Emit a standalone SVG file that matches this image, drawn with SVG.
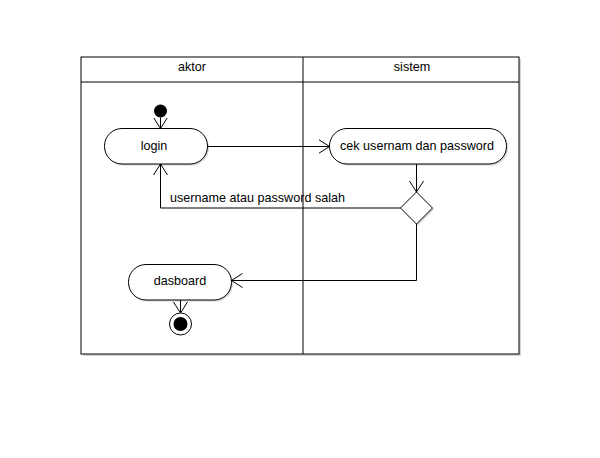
<svg xmlns="http://www.w3.org/2000/svg" width="600" height="458" viewBox="0 0 600 458">
<defs>
<marker id="arr" markerWidth="12" markerHeight="16" refX="11" refY="8" orient="auto" markerUnits="userSpaceOnUse">
<path d="M0,1 L11,8 L0,15" fill="none" stroke="#000" stroke-width="1"/>
</marker>
</defs>
<style>
text{font-family:"Liberation Sans",Arial,sans-serif;font-size:12.6px;fill:#000}
.lane{fill:#fff;stroke:#000;stroke-width:1}
.act{fill:#fff;stroke:#000;stroke-width:1}
.sh{fill:#d4d4d4;stroke:none}
.c{fill:none;stroke:#000;stroke-width:1}
</style>
<rect width="600" height="458" fill="#fff"/>
<g id="pool">
<rect x="83" y="59" width="438" height="297" class="sh"/>
<rect x="81" y="57" width="438" height="297" class="lane"/>
<line x1="81" y1="82" x2="519" y2="82" stroke="#000"/>
<line x1="303" y1="57" x2="303" y2="354" stroke="#000"/>
</g>
<g id="lane-aktor"><text x="192" y="71" text-anchor="middle">aktor</text></g>
<g id="lane-sistem"><text x="412" y="71" text-anchor="middle">sistem</text></g>
<g id="start"><circle cx="160.5" cy="111" r="6.5" fill="#000"/></g>
<g id="login">
<rect x="106" y="130" width="103" height="35.5" rx="17.5" class="sh"/>
<rect x="104.5" y="128.5" width="103" height="35.5" rx="17.5" class="act"/>
<text x="154" y="150" text-anchor="middle">login</text>
</g>
<g id="cek">
<rect x="331" y="130" width="177" height="35.5" rx="17.5" class="sh"/>
<rect x="329.5" y="128.5" width="177" height="35.5" rx="17.5" class="act"/>
<text x="417" y="150" text-anchor="middle">cek usernam dan password</text>
</g>
<g id="decision">
<polygon points="418,193.5 434,209.5 418,225.5 402,209.5" class="sh"/>
<polygon points="416.5,192 432.5,208 416.5,224 400.5,208" class="act"/>
</g>
<g id="dasboard">
<rect x="130" y="266" width="103" height="35.5" rx="17.5" class="sh"/>
<rect x="128.5" y="264.5" width="103" height="35.5" rx="17.5" class="act"/>
<text x="180" y="284.5" text-anchor="middle">dasboard</text>
</g>
<g id="end">
<circle cx="180.5" cy="324" r="11" fill="#fff" stroke="#000"/>
<circle cx="180.5" cy="324" r="7" fill="#000"/>
</g>
<g id="connectors">
<path d="M160.5,117.5 L160.5,128.5" class="c" marker-end="url(#arr)"/>
<path d="M207.5,146.5 L329.5,146.5" class="c" marker-end="url(#arr)"/>
<path d="M416.5,164 L416.5,192" class="c" marker-end="url(#arr)"/>
<path d="M400.5,208 L160.5,208 L160.5,164" class="c" marker-end="url(#arr)"/>
<path d="M416.5,224 L416.5,280.5 L231.5,280.5" class="c" marker-end="url(#arr)"/>
<path d="M180.5,300 L180.5,313" class="c" marker-end="url(#arr)"/>
<text x="170" y="202">username atau password salah</text>
</g>
</svg>
